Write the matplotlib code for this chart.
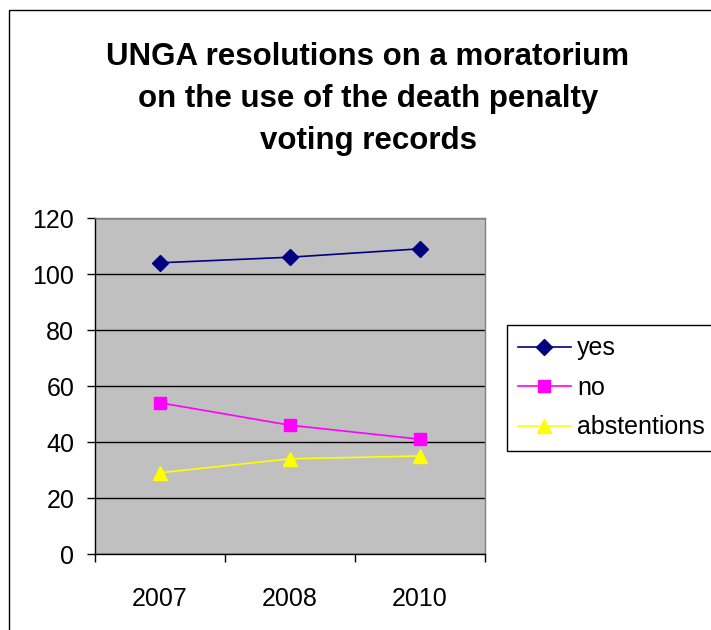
import matplotlib
matplotlib.use("Agg")
import matplotlib.pyplot as plt
from matplotlib.patches import Rectangle

# data
years = ["2007", "2008", "2010"]
yes_votes = [104, 106, 109]
no_votes = [54, 46, 41]
abstentions = [29, 34, 35]

plt.rcParams['font.family'] = ['Liberation Sans', 'DejaVu Sans']

fig = plt.figure(figsize=(7.11, 6.3), dpi=100)

# outer chart border (right and bottom fall outside the picture)
fig.patches.append(Rectangle((9 / 711, -0.1), 1.2, 1 - 10 / 630 + 0.1,
                             transform=fig.transFigure, fill=False,
                             edgecolor='black', linewidth=1.0))

ax = fig.add_axes([95 / 711, 1 - 554 / 630, 390 / 711, 336 / 630])
ax.set_facecolor('#C0C0C0')

x = [1, 2, 3]
ax.plot(x, yes_votes, color='#000080', marker='D', markersize=8, linewidth=1.2, label='yes', zorder=3)
ax.plot(x, no_votes, color='#FF00FF', marker='s', markersize=9, linewidth=1.2, label='no', zorder=3)
ax.plot(x, abstentions, color='#FFFF00', marker='^', markersize=10, linewidth=1.2, label='abstentions', zorder=3)

ax.set_xlim(0.5, 3.5)
ax.set_ylim(0, 120)
ax.set_yticks(range(0, 121, 20))
ax.yaxis.grid(True, color='black', linewidth=1.0)
ax.set_axisbelow(True)

ax.set_xticks(x)
ax.set_xticklabels(years)
ax.set_xticks([0.5, 1.5, 2.5, 3.5], minor=True)
ax.tick_params(axis='x', which='major', length=0, pad=24, labelsize=18)
ax.tick_params(axis='x', which='minor', length=6, width=1, direction='out')
ax.tick_params(axis='y', length=6, width=1, pad=9, labelsize=18)

for side in ['left', 'bottom']:
    ax.spines[side].set_color('black')
    ax.spines[side].set_linewidth(1.0)
for side in ['top', 'right']:
    ax.spines[side].set_color('#808080')
    ax.spines[side].set_linewidth(1.0)

fig.text(368 / 711, 1 - 42 / 630,
         "UNGA resolutions on a moratorium\non the use of the death penalty\nvoting records",
         ha='center', va='top', fontsize=22.5, fontweight='bold', linespacing=1.52)

leg = fig.legend(loc='upper left', bbox_to_anchor=(507 / 711, 1 - 325 / 630),
                 fontsize=18, frameon=True, fancybox=False, edgecolor='black',
                 framealpha=1, borderaxespad=0, borderpad=0.45, handlelength=2.1,
                 handletextpad=0.25, labelspacing=0.62)
leg.get_frame().set_linewidth(1.0)

fig.savefig("out.png", dpi=100)
